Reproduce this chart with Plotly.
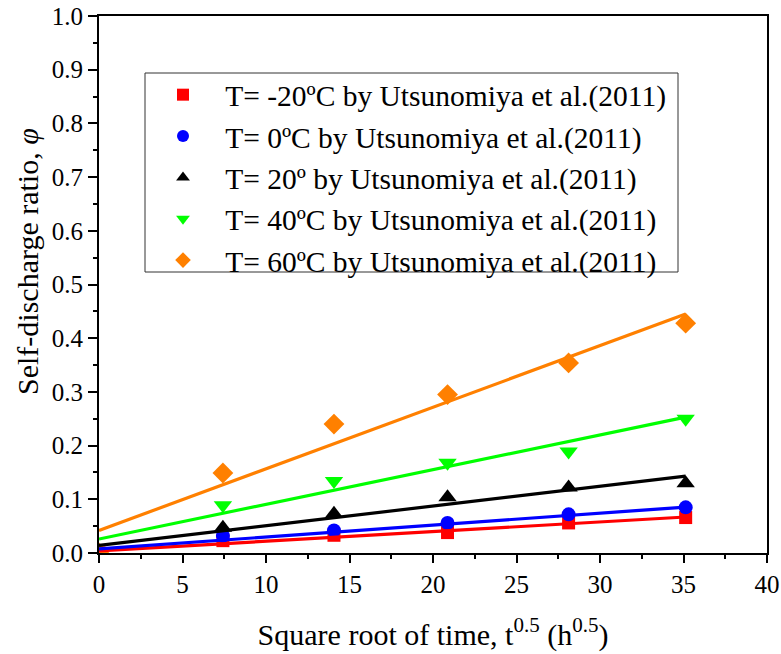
import plotly.graph_objects as go

# ---- data ----
sqrt_time = [0, 7.42, 14.07, 20.87, 28.12, 35.13]
ratio_m20 = [0, 0.023, 0.033, 0.038, 0.056, 0.066]
ratio_0 = [0, 0.032, 0.042, 0.056, 0.072, 0.085]
ratio_20 = [0, 0.047, 0.073, 0.104, 0.122, 0.130]
ratio_40 = [0, 0.089, 0.134, 0.168, 0.189, 0.250]
ratio_60 = [0, 0.149, 0.240, 0.295, 0.354, 0.428]

fit_x = [0, 35.13]
fit_m20 = [0.004, 0.067]
fit_0 = [0.0075, 0.0856]
fit_20 = [0.014, 0.143]
fit_40 = [0.026, 0.253]
fit_60 = [0.042, 0.445]

x_ticks = [0, 5, 10, 15, 20, 25, 30, 35, 40]
y_ticks = [0, 0.1, 0.2, 0.3, 0.4, 0.5, 0.6, 0.7, 0.8, 0.9, 1.0]

labels = [
    "T= -20ºC by Utsunomiya et al.(2011)",
    "T= 0ºC by Utsunomiya et al.(2011)",
    "T= 20º by Utsunomiya et al.(2011)",
    "T= 40ºC by Utsunomiya et al.(2011)",
    "T= 60ºC by Utsunomiya et al.(2011)",
]
colors = ["#FF0000", "#0000FF", "#000000", "#00FF00", "#FF8000"]
symbols = ["square", "circle", "triangle-up", "triangle-down", "diamond"]
sizes = [13, 14, 16, 16, 16]
series = [ratio_m20, ratio_0, ratio_20, ratio_40, ratio_60]
fits = [fit_m20, fit_0, fit_20, fit_40, fit_60]

FONT = "Liberation Serif, Times New Roman, serif"
PAD = "\u00a0\u00a0\u00a0"

fig = go.Figure()
for lab, c, sym, sz, ys in zip(labels, colors, symbols, sizes, series):
    fig.add_trace(go.Scatter(x=sqrt_time, y=ys, mode="markers", name=PAD + lab,
                             marker=dict(symbol=sym, size=sz, color=c, line=dict(width=0)),
                             cliponaxis=True))
for c, fy in zip(colors, fits):
    fig.add_trace(go.Scatter(x=fit_x, y=fy, mode="lines", showlegend=False,
                             line=dict(color=c, width=3.2), hoverinfo="skip"))

W, H = 781, 654
L, R, T, B = 99, 14, 16, 101
pw, ph = W - L - R, H - T - B

def px2paper(xp, yp):
    return (xp - L) / pw, (H - B - yp) / ph

x0, y0 = px2paper(145, 73)
x1, y1 = px2paper(678, 272)
fig.add_shape(type="rect", xref="paper", yref="paper", x0=x0, y0=y1, x1=x1, y1=y0,
              line=dict(color="#333333", width=1), fillcolor="rgba(0,0,0,0)")

# y-axis title (slightly above centre, as in the reference)
tx, ty = px2paper(27, 262)
fig.add_annotation(text="Self-discharge ratio, <i>φ</i>", xref="paper", yref="paper",
                   x=tx, y=ty, xanchor="center", yanchor="middle", textangle=-90,
                   showarrow=False, font=dict(family=FONT, size=30, color="black"))

lx, ly = px2paper(163, 69)
fig.update_layout(
    width=W, height=H,
    margin=dict(l=L, r=R, t=T, b=B, autoexpand=False),
    paper_bgcolor="white", plot_bgcolor="white",
    font=dict(family=FONT, color="black", size=25),
    legend=dict(x=lx, y=ly, xanchor="left", yanchor="top",
                font=dict(family=FONT, size=29.5, color="black"),
                bgcolor="rgba(0,0,0,0)", borderwidth=0,
                itemsizing="constant", tracegroupgap=0),
    xaxis=dict(range=[0, 40], tickvals=x_ticks, automargin=False,
               showgrid=False, zeroline=False, showline=True, linecolor="black", linewidth=2,
               mirror=True, ticks="outside", ticklen=8, tickwidth=2, tickcolor="black",
               tickfont=dict(family=FONT, size=25),
               minor=dict(dtick=2.5, ticks="outside", ticklen=4, tickwidth=2, tickcolor="black", showgrid=False),
               title=dict(text="Square root of time, t<sup>0.5</sup> (h<sup>0.5</sup>)",
                          font=dict(family=FONT, size=30), standoff=27)),
    yaxis=dict(range=[0, 1.0], tickvals=y_ticks, tickformat=".1f", automargin=False,
               showgrid=False, zeroline=False, showline=True, linecolor="black", linewidth=2,
               mirror=True, ticks="outside", ticklen=9, tickwidth=2, tickcolor="black",
               tickfont=dict(family=FONT, size=25),
               minor=dict(dtick=0.05, ticks="outside", ticklen=4, tickwidth=2, tickcolor="black", showgrid=False)),
)

fig.write_html("out.html")
